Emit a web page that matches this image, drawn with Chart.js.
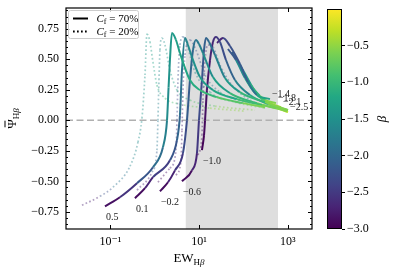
<!DOCTYPE html>
<html>
<head>
<meta charset="utf-8">
<script src="https://cdn.jsdelivr.net/npm/chart.js@4.4.1/dist/chart.umd.min.js"></script>
<style>
body { margin: 0; background: #fff; }
#wrap { position: relative; width: 399px; height: 272px; }
canvas { position: absolute; top: 0; }
</style>
</head>
<body>
<div id="wrap">
<canvas id="main_chart" width="399" height="272" style="left:0"></canvas>
<canvas id="cbar_chart" width="79" height="272" style="left:320px"></canvas>
</div>
<script>
// C_f = 70% curves (solid), labelled at their lowest point
var solid_labels = ["0.5", "0.1", "\u22120.2", "\u22120.6", "\u22121.0", "\u22121.4", "\u22121.8", "\u22122.1", "\u22122.5"];
var solid_ew = [
    [0.0756, 0.164, 0.398, 0.912, 1.53, 1.89, 2.05, 2.20, 2.44, 3.0, 3.7, 6.2, 10.4, 25, 97, 305],
    [0.358, 0.603, 0.912, 2.2, 3.17, 3.7, 4.11, 4.8, 5.6, 6.9, 10.45, 20.5, 71, 261, 540],
    [1.31, 1.99, 2.86, 4.33, 5.32, 6.22, 7.28, 8.49, 9.93, 12.2, 20.5, 49.6, 201, 957],
    [4.11, 6.9, 8.95, 9.93, 11.6, 12.9, 14.3, 16.7, 22.8, 38.3, 83.4, 305, 1007],
    [11.6, 12.9, 13.6, 15.0, 17.6, 20.5, 24.0, 29.5, 40.3, 64.3, 140, 356, 1007],
    [25.3, 34.5, 49.6, 83.4, 126, 201, 395],
    [44.7, 67.8, 108, 182, 305, 540],
    [55.0, 83.4, 140, 235, 395, 700],
    [64.3, 103, 164, 275, 513, 1007]
];
var solid_psi = [
    [-0.704, -0.63, -0.515, -0.384, -0.22, 0.0, 0.27, 0.494, 0.715, 0.66, 0.55, 0.33, 0.248, 0.19, 0.141, 0.108],
    [-0.638, -0.556, -0.466, -0.327, -0.162, 0.043, 0.412, 0.674, 0.617, 0.518, 0.354, 0.248, 0.174, 0.125, 0.10],
    [-0.581, -0.507, -0.41, -0.269, 0.0, 0.33, 0.576, 0.658, 0.625, 0.551, 0.354, 0.223, 0.141, 0.075],
    [-0.499, -0.41, -0.269, 0.0, 0.33, 0.576, 0.674, 0.642, 0.535, 0.346, 0.231, 0.149, 0.084],
    [-0.244, -0.121, 0.0, 0.248, 0.494, 0.642, 0.683, 0.642, 0.494, 0.33, 0.207, 0.133, 0.084],
    [0.634, 0.674, 0.609, 0.461, 0.313, 0.207, 0.174],
    [0.584, 0.494, 0.346, 0.223, 0.166, 0.141],
    [0.559, 0.444, 0.297, 0.199, 0.141, 0.108],
    [0.518, 0.395, 0.264, 0.166, 0.108, 0.067]
];
var solid_beta = [
    [-3.0, -2.75, -2.35, -2.05, -1.8, -1.6, -1.5, -1.45, -1.4, -1.35, -1.3, -1.2, -1.1, -0.9, -0.7, -0.5],
    [-3.0, -2.8, -2.6, -2.3, -2.1, -1.95, -1.8, -1.7, -1.6, -1.55, -1.45, -1.3, -1.1, -0.8, -0.5],
    [-3.0, -2.8, -2.6, -2.4, -2.2, -2.05, -1.95, -1.85, -1.75, -1.65, -1.45, -1.2, -0.8, -0.35],
    [-3.0, -2.8, -2.6, -2.4, -2.25, -2.15, -2.05, -1.95, -1.8, -1.55, -1.25, -0.8, -0.35],
    [-3.0, -2.95, -2.9, -2.85, -2.75, -2.65, -2.55, -2.4, -2.2, -1.9, -1.4, -0.9, -0.4],
    [-3.0, -2.4, -2.3, -2.2, -2.05, -1.7, -0.8],
    [-2.6, -1.8, -1.4, -1.0, -0.7, -0.4],
    [-2.4, -1.7, -1.3, -0.9, -0.5, -0.3],
    [-2.2, -1.6, -1.1, -0.8, -0.45, -0.2]
];

// C_f = 20% curves (dotted)
var dotted_ew = [
    [0.0229, 0.0583, 0.1145, 0.277, 0.419, 0.515, 0.603, 0.668, 0.78, 0.912, 1.12, 1.70, 3.70, 17.6, 108],
    [0.398, 0.867, 1.12, 1.18, 1.245, 1.31, 1.455, 1.70, 2.2, 3.17, 6.22, 22.8, 182],
    [1.18, 2.2, 3.01, 3.17, 3.34, 3.7, 4.33, 5.32, 8.07, 17.6, 64.3, 305],
    [3.01, 3.90, 4.11, 4.33, 4.8, 6.22, 8.49, 13.6, 29.5, 108, 305],
    [9.42, 11.6, 12.2, 13.6, 15.8, 20.5, 29.5, 55.0, 140, 305]
];
var dotted_psi = [
    [-0.696, -0.622, -0.548, -0.376, -0.179, 0.018, 0.371, 0.707, 0.642, 0.477, 0.289, 0.182, 0.133, 0.10, 0.075],
    [-0.573, -0.425, -0.244, 0.0, 0.33, 0.576, 0.674, 0.617, 0.412, 0.248, 0.166, 0.117, 0.084],
    [-0.507, -0.392, -0.244, 0.0, 0.33, 0.617, 0.683, 0.617, 0.395, 0.231, 0.149, 0.10],
    [-0.45, -0.327, -0.08, 0.248, 0.535, 0.658, 0.576, 0.371, 0.231, 0.149, 0.10],
    [-0.285, -0.121, 0.166, 0.494, 0.617, 0.60, 0.453, 0.289, 0.166, 0.117]
];
var dotted_beta = [
    [-3.0, -2.5, -2.0, -1.7, -1.55, -1.5, -1.45, -1.4, -1.35, -1.3, -1.2, -1.0, -0.8, -0.6, -0.4],
    [-3.0, -2.4, -1.9, -1.75, -1.65, -1.6, -1.55, -1.5, -1.4, -1.25, -1.0, -0.7, -0.4],
    [-3.0, -2.8, -2.6, -2.45, -2.3, -2.2, -2.1, -2.0, -1.8, -1.4, -1.0, -0.5],
    [-3.0, -2.85, -2.75, -2.65, -2.55, -2.45, -2.3, -2.0, -1.5, -1.0, -0.55],
    [-3.0, -2.9, -2.8, -2.7, -2.6, -2.5, -2.3, -1.9, -1.2, -0.6]
];

var shade_range = [5, 600];
var x_ticks = [0.1, 10, 1000];
var x_tick_labels = ["10\u207b\u00b9", "10\u00b9", "10\u00b3"];
var y_ticks = [-0.75, -0.5, -0.25, 0, 0.25, 0.5, 0.75];
var beta_min = -3.0, beta_max = 0.0;
var cbar_ticks = [-3.0, -2.5, -2.0, -1.5, -1.0, -0.5];

var FONT = "'Liberation Serif', 'DejaVu Serif', serif";
var viridis_stops = ["#440154", "#482475", "#414487", "#355f8d", "#2a788e", "#21918c", "#22a884", "#44bf70", "#7ad151", "#bddf26", "#fde725"];

function hex2rgb(h) {
    return [parseInt(h.substr(1, 2), 16), parseInt(h.substr(3, 2), 16), parseInt(h.substr(5, 2), 16)];
}

function viridis(b, a) {
    var t = (b - beta_min) / (beta_max - beta_min);
    t = Math.max(0, Math.min(1, t)) * (viridis_stops.length - 1);
    var i = Math.min(Math.floor(t), viridis_stops.length - 2), f = t - i;
    var c0 = hex2rgb(viridis_stops[i]), c1 = hex2rgb(viridis_stops[i + 1]);
    var r = Math.round(c0[0] + (c1[0] - c0[0]) * f),
        g = Math.round(c0[1] + (c1[1] - c0[1]) * f),
        bl = Math.round(c0[2] + (c1[2] - c0[2]) * f);
    return "rgba(" + r + "," + g + "," + bl + "," + (a == undefined ? 1 : a) + ")";
}

function fmt(v, d) {
    var s = Math.abs(v).toFixed(d);
    return v < 0 ? "\u2212" + s : s;
}

function make_set(ew, psi, beta, dotted) {
    var alpha = dotted ? 0.42 : 1;
    return {
        data: ew.map(function(x, j) { return {x: x, y: psi[j]}; }),
        borderColor: viridis(beta[0], alpha),
        borderWidth: dotted ? 1.7 : 2,
        borderDash: dotted ? [1.7, 2.3] : [],
        pointRadius: 0,
        fill: false,
        cubicInterpolationMode: "monotone",
        segment: {
            borderColor: function(ctx) {
                var b = (beta[ctx.p0DataIndex] + beta[ctx.p1DataIndex]) / 2;
                return viridis(b, alpha);
            }
        }
    };
}

var datasets = [];
for (var i = 0; i < solid_ew.length; i++) datasets.push(make_set(solid_ew[i], solid_psi[i], solid_beta[i], false));
for (var i = 0; i < dotted_ew.length; i++) datasets.push(make_set(dotted_ew[i], dotted_psi[i], dotted_beta[i], true));

function sub_text(c, parts, x, y) {
    // parts: [text, font, dy]
    var w = 0;
    parts.forEach(function(p) { c.font = p[1]; w += c.measureText(p[0]).width; });
    var cx = x - w / 2;
    parts.forEach(function(p) {
        c.font = p[1];
        c.fillText(p[0], cx, y + p[2]);
        cx += c.measureText(p[0]).width;
    });
    return x - w / 2;
}

var frame_plugin = {
    id: "frame",
    beforeDatasetsDraw: function(chart) {
        var c = chart.ctx, a = chart.chartArea, sx = chart.scales.x, sy = chart.scales.y;
        c.save();
        var x0 = sx.getPixelForValue(shade_range[0]), x1 = sx.getPixelForValue(shade_range[1]);
        c.fillStyle = "#dedede";
        c.fillRect(x0, a.top, x1 - x0, a.bottom - a.top);
        var y0 = sy.getPixelForValue(0);
        c.strokeStyle = "#b0b0b0";
        c.lineWidth = 1.5;
        c.setLineDash([7, 3.5]);
        c.beginPath();
        c.moveTo(a.left, y0);
        c.lineTo(a.right, y0);
        c.stroke();
        c.restore();
    },
    afterDatasetsDraw: function(chart) {
        var c = chart.ctx, sx = chart.scales.x, sy = chart.scales.y;
        c.save();
        c.font = "10px " + FONT;
        c.fillStyle = "#222";
        c.textAlign = "left";
        c.textBaseline = "middle";
        for (var i = 0; i < solid_labels.length; i++) {
            var k = solid_psi[i].indexOf(Math.min.apply(null, solid_psi[i]));
            var px = sx.getPixelForValue(solid_ew[i][k]), py = sy.getPixelForValue(solid_psi[i][k]);
            if (k == 0) c.fillText(solid_labels[i], px + 1, py + 11);
            else c.fillText(solid_labels[i], px + 2, py - 5);
        }
        c.restore();
    },
    afterDraw: function(chart) {
        var c = chart.ctx, a = chart.chartArea, sx = chart.scales.x, sy = chart.scales.y;
        c.save();
        // spines
        c.strokeStyle = "#000";
        c.lineWidth = 1.2;
        c.strokeRect(a.left, a.top, a.right - a.left, a.bottom - a.top);
        // inward ticks
        c.lineWidth = 1;
        c.beginPath();
        x_ticks.forEach(function(v) {
            var p = Math.round(sx.getPixelForValue(v)) + 0.5;
            c.moveTo(p, a.bottom); c.lineTo(p, a.bottom - 4);
            c.moveTo(p, a.top); c.lineTo(p, a.top + 4);
        });
        for (var m = -17; m <= 18; m++) {
            var v = m * 0.05;
            var p = Math.round(sy.getPixelForValue(v)) + 0.5;
            var len = (m % 5 == 0) ? 4 : 2;
            c.moveTo(a.left, p); c.lineTo(a.left + len, p);
            c.moveTo(a.right, p); c.lineTo(a.right - len, p);
        }
        c.stroke();

        // axis titles
        c.fillStyle = "#000";
        c.textAlign = "left";
        c.textBaseline = "alphabetic";
        sub_text(c, [["EW", "13px " + FONT, 0], ["H", "9px " + FONT, 3], ["\u03b2", "italic 9px " + FONT, 3]],
            (a.left + a.right) / 2, 262);
        c.save();
        c.translate(16, (a.top + a.bottom) / 2);
        c.rotate(-Math.PI / 2);
        var lx = sub_text(c, [["\u03a8", "13px " + FONT, 0], ["H", "9px " + FONT, 3], ["\u03b2", "italic 9px " + FONT, 3]], 0, 0);
        c.font = "13px " + FONT;
        c.fillRect(lx + 1.5, -11.5, c.measureText("\u03a8").width - 3, 1);
        c.restore();

        // legend
        var bx = 68.5, by = 10.5, bw = 70, bh = 28;
        c.beginPath();
        c.roundRect(bx, by, bw, bh, 2);
        c.fillStyle = "rgba(255,255,255,0.8)";
        c.fill();
        c.strokeStyle = "#cccccc";
        c.lineWidth = 1;
        c.stroke();
        c.strokeStyle = "#000";
        c.lineWidth = 2;
        c.beginPath(); c.moveTo(73, 18.5); c.lineTo(88, 18.5); c.stroke();
        c.setLineDash([1.7, 2.3]);
        c.beginPath(); c.moveTo(73, 31.5); c.lineTo(88, 31.5); c.stroke();
        c.setLineDash([]);
        c.fillStyle = "#000";
        var leg = ["70%", "20%"];
        for (var j = 0; j < 2; j++) {
            var ty = 22 + j * 13.2, tx = 96.5;
            c.font = "italic 11px " + FONT; c.fillText("C", tx, ty); tx += c.measureText("C").width;
            c.font = "8px " + FONT; c.fillText("f", tx, ty + 2); tx += c.measureText("f").width;
            c.font = "11px " + FONT; c.fillText(" = " + leg[j], tx, ty);
        }
        c.restore();
    }
};

var main_chart = new Chart(document.getElementById("main_chart"), {
    type: "line",
    data: { datasets: datasets },
    options: {
        responsive: false,
        animation: false,
        events: [],
        layout: { padding: { top: 8, right: 87, left: 0, bottom: 0 } },
        plugins: { legend: { display: false }, tooltip: { enabled: false } },
        scales: {
            x: {
                type: "logarithmic",
                min: 0.01,
                max: 3500,
                bounds: "data",
                grid: { display: false, drawTicks: false },
                border: { display: false },
                afterBuildTicks: function(s) { s.ticks = x_ticks.map(function(v) { return {value: v}; }); },
                afterFit: function(s) { s.height = 43; s.paddingLeft = 0; s.paddingRight = 0; },
                ticks: {
                    autoSkip: false, maxRotation: 0, padding: 6, color: "#000",
                    font: { family: FONT, size: 12 },
                    callback: function(v) { return x_tick_labels[x_ticks.indexOf(v)]; }
                }
            },
            y: {
                min: -0.89,
                max: 0.92,
                bounds: "data",
                grid: { display: false, drawTicks: false },
                border: { display: false },
                afterBuildTicks: function(s) { s.ticks = y_ticks.map(function(v) { return {value: v}; }); },
                afterFit: function(s) { s.width = 66; s.paddingTop = 0; s.paddingBottom = 0; },
                ticks: {
                    padding: 7, color: "#000",
                    font: { family: FONT, size: 12 },
                    callback: function(v) { return fmt(v, 2); }
                }
            }
        }
    },
    plugins: [frame_plugin]
});

var cbar_plugin = {
    id: "cbar",
    beforeDraw: function(chart) {
        var c = chart.ctx, a = chart.chartArea;
        c.save();
        var g = c.createLinearGradient(0, a.bottom, 0, a.top);
        viridis_stops.forEach(function(col, i) { g.addColorStop(i / (viridis_stops.length - 1), col); });
        c.fillStyle = g;
        c.fillRect(a.left, a.top, a.right - a.left, a.bottom - a.top);
        c.restore();
    },
    afterDraw: function(chart) {
        var c = chart.ctx, a = chart.chartArea;
        c.save();
        c.strokeStyle = "#000";
        c.lineWidth = 1;
        c.strokeRect(a.left + 0.5, a.top + 0.5, a.right - a.left - 1, a.bottom - a.top - 1);
        c.translate(63, (a.top + a.bottom) / 2);
        c.rotate(-Math.PI / 2);
        c.font = "italic 13px " + FONT;
        c.textAlign = "center";
        c.textBaseline = "middle";
        c.fillStyle = "#000";
        c.fillText("\u03b2", 0, 0);
        c.restore();
    }
};

var cbar_chart = new Chart(document.getElementById("cbar_chart"), {
    type: "line",
    data: { datasets: [] },
    options: {
        responsive: false,
        animation: false,
        events: [],
        layout: { padding: { top: 9, right: 0, left: 7, bottom: 43 } },
        plugins: { legend: { display: false }, tooltip: { enabled: false } },
        scales: {
            x: { display: false },
            y: {
                position: "right",
                min: beta_min,
                max: beta_max,
                bounds: "data",
                grid: { display: true, drawOnChartArea: false, drawTicks: true, tickLength: 3, color: "#000" },
                border: { display: false },
                afterBuildTicks: function(s) { s.ticks = cbar_ticks.map(function(v) { return {value: v}; }); },
                afterFit: function(s) { s.width = 57; s.paddingTop = 0; s.paddingBottom = 0; },
                ticks: {
                    padding: 2, color: "#000",
                    font: { family: FONT, size: 12 },
                    callback: function(v) { return fmt(v, 1); }
                }
            }
        }
    },
    plugins: [cbar_plugin]
});
</script>
</body>
</html>
